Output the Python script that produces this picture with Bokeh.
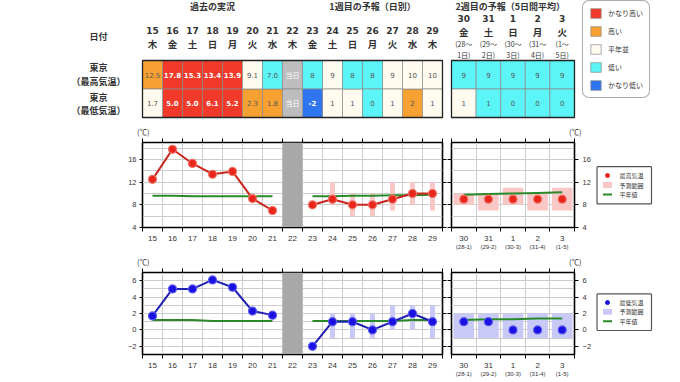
from bokeh.plotting import figure
from bokeh.models import (Range1d, LinearAxis, FixedTicker, Label, Legend,
                          LegendItem, ColumnDataSource)
from bokeh.layouts import row, column
from bokeh.core.properties import value
from bokeh.embed import file_html
from bokeh.resources import INLINE

# ---------------- data ----------------
past_days = [15, 16, 17, 18, 19, 20, 21]
past_weekdays = ["木", "金", "土", "日", "月", "火", "水"]
past_max = [12.5, 17.8, 15.3, 13.4, 13.9, 9.1, 7.0]
past_min = [1.7, 5.0, 5.0, 6.1, 5.2, 2.3, 1.8]
past_max_cat = ["high", "vhigh", "vhigh", "vhigh", "vhigh", "normal", "low"]
past_min_cat = ["normal", "vhigh", "vhigh", "vhigh", "vhigh", "high", "high"]
past_norm_max = [9.6, 9.6, 9.5, 9.5, 9.5, 9.5, 9.5]
past_norm_min = [1.2, 1.2, 1.2, 1.1, 1.1, 1.1, 1.1]

today_day = 22
today_weekday = "木"
today_text = "当日"

w1_days = [23, 24, 25, 26, 27, 28, 29]
w1_weekdays = ["金", "土", "日", "月", "火", "水", "木"]
w1_max = [8, 9, 8, 8, 9, 10, 10]
w1_min = [-2, 1, 1, 0, 1, 2, 1]
w1_max_cat = ["low", "normal", "low", "low", "normal", "normal", "normal"]
w1_min_cat = ["vlow", "normal", "normal", "low", "normal", "high", "normal"]
w1_norm_max = [9.5, 9.5, 9.6, 9.6, 9.7, 9.7, 9.8]
w1_norm_min = [1.1, 1.1, 1.1, 1.1, 1.1, 1.2, 1.2]
w1_range_days = [24, 25, 26, 27, 28, 29]
w1_max_lo = [8, 6, 6, 7, 8, 7]
w1_max_hi = [12, 10, 10, 12, 12, 12]
w1_min_lo = [-1, -1, -1, 0, 0, -1]
w1_min_hi = [2, 2, 2, 3, 3, 3]

w2_days = ["30", "31", "1", "2", "3"]
w2_weekdays = ["金", "土", "日", "月", "火"]
w2_period_from = ["(28～", "(29～", "(30～", "(31～", "(1～"]
w2_period_to = ["1日)", "2日)", "3日)", "4日)", "5日)"]
w2_axis_periods = ["(28-1)", "(29-2)", "(30-3)", "(31-4)", "(1-5)"]
w2_max = [9, 9, 9, 9, 9]
w2_min = [1, 1, 0, 0, 0]
w2_max_cat = ["low", "low", "low", "low", "low"]
w2_min_cat = ["normal", "low", "low", "low", "low"]
w2_max_lo = [8, 7, 8, 7, 7]
w2_max_hi = [10, 10, 11, 10, 11]
w2_min_lo = [-1, -1, -1, -1, -1]
w2_min_hi = [2, 2, 2, 2, 2]
w2_norm_max = [9.8, 9.9, 10.0, 10.1, 10.2]
w2_norm_min = [1.2, 1.3, 1.3, 1.4, 1.4]

categories = ["vhigh", "high", "normal", "low", "vlow"]
category_labels = ["かなり高い", "高い", "平年並", "低い", "かなり低い"]

max_ticks = [4, 8, 12, 16]
min_ticks = [-2, 0, 2, 4, 6]

# ---------------- style ----------------
JP = "Noto Sans CJK JP"
NUM = "Liberation Sans"
CELLNUM = "DejaVu Sans"
CAT_COLOR = {"vhigh": "#f23a2a", "high": "#f6a132", "normal": "#fffbef",
             "low": "#5cf5f7", "vlow": "#2f76ee"}
TODAY_CELL = "#bdbdbd"
TODAY_BAND = "#a8a8a8"
GRID = "#cccccc"
TXT = "#333333"
GREEN = "#2a8a2a"

# ---------------- layout (page pixels) ----------------
FIG_W = 672
TOP_H, ROW1_H, ROW2_H = 122, 130, 128
DAY_X0 = 142
DAY_PX = 20
A_W = 447
W2_X0 = 451
W2_PX = 24.6
B_RIGHT = 20
TABLE_TOP = 60
ROW_PX = 28.5
LABEL_X = 98

all_days = past_days + [today_day] + w1_days
all_weekdays = past_weekdays + [today_weekday] + w1_weekdays
d_lo = all_days[0] - 0.5
d_hi = all_days[-1] + 0.5
slots = list(range(len(w2_days)))


def day_at(px):
    return d_lo + (px - DAY_X0) / DAY_PX


def slot_at(px):
    return -0.5 + (px - W2_X0) / W2_PX


def row_at(py):
    return (py - TABLE_TOP) / ROW_PX - 0.5


def no_border(**kw):
    return dict(min_border_left=0, min_border_right=0, min_border_top=0,
                min_border_bottom=0, x_axis_type=None, y_axis_type=None,
                toolbar_location=None, output_backend="svg", outline_line_color=None, **kw)


# ================= top table =================
top = figure(width=FIG_W, height=TOP_H,
             x_range=Range1d(day_at(0), day_at(FIG_W)),
             y_range=Range1d(row_at(TOP_H), row_at(0)), **no_border())
top.extra_x_ranges = {"w2": Range1d(slot_at(0), slot_at(FIG_W))}
top.grid.visible = False

cell_days = past_days + w1_days
cell_max_cat = past_max_cat + w1_max_cat
cell_min_cat = past_min_cat + w1_min_cat
cell_r = {}
for cat in categories:
    xs, ys = [], []
    for d, c in zip(cell_days, cell_max_cat):
        if c == cat:
            xs.append(d); ys.append(0)
    for d, c in zip(cell_days, cell_min_cat):
        if c == cat:
            xs.append(d); ys.append(1)
    src = ColumnDataSource(dict(l=[x - 0.5 for x in xs], r=[x + 0.5 for x in xs],
                                t=[y - 0.5 for y in ys], b=[y + 0.5 for y in ys]))
    cell_r[cat] = top.quad(left="l", right="r", top="t", bottom="b", source=src,
                           fill_color=CAT_COLOR[cat], line_color="#8a8a8a", line_width=0.7)
top.quad(left=[today_day - 0.5] * 2, right=[today_day + 0.5] * 2, top=[-0.5, 0.5],
         bottom=[0.5, 1.5], fill_color=TODAY_CELL, line_color="#8a8a8a", line_width=0.7)
w2_cells = ColumnDataSource(dict(
    l=[s - 0.5 for s in slots] * 2, r=[s + 0.5 for s in slots] * 2,
    t=[-0.5] * len(slots) + [0.5] * len(slots), b=[0.5] * len(slots) + [1.5] * len(slots),
    c=[CAT_COLOR[c] for c in w2_max_cat + w2_min_cat]))
top.quad(left="l", right="r", top="t", bottom="b", fill_color="c", source=w2_cells,
         line_color="#8a8a8a", line_width=0.7, x_range_name="w2")
top.quad(left=[d_lo], right=[d_hi], top=[-0.5], bottom=[1.5], fill_color=None,
         line_color="#222222", line_width=1.3)
top.quad(left=[-0.5], right=[len(slots) - 0.5], top=[-0.5], bottom=[1.5], fill_color=None,
         line_color="#222222", line_width=1.3, x_range_name="w2")

bx, by, bt_ = [], [], []
nx, ny, nt = [], [], []


def add_cells(days, vals, cats, r, fmt):
    for d, v, c in zip(days, vals, cats):
        strong = c in ("vhigh", "vlow")
        (bx if strong else nx).append(d)
        (by if strong else ny).append(r)
        (bt_ if strong else nt).append(fmt(v))


add_cells(past_days, past_max, past_max_cat, 0, lambda v: f"{v:.1f}")
add_cells(past_days, past_min, past_min_cat, 1, lambda v: f"{v:.1f}")
add_cells(w1_days, w1_max, w1_max_cat, 0, lambda v: f"{v:d}")
add_cells(w1_days, w1_min, w1_min_cat, 1, lambda v: f"{v:d}")
top.text(x=bx, y=by, text=bt_, text_align="center", text_baseline="middle",
         text_font=value(CELLNUM), text_font_size="7px",
         text_font_style="bold", text_color="white")
top.text(x=nx, y=ny, text=nt, text_align="center", text_baseline="middle",
         text_font=value(CELLNUM), text_font_size="7px", text_color="#555555")
top.text(x=[today_day, today_day], y=[0, 1], text=[today_text, today_text],
         text_align="center", text_baseline="middle", text_font=value(JP),
         text_font_size="7px", text_color="white")
top.text(x=slots + slots, y=[0] * len(slots) + [1] * len(slots),
         text=[f"{v:d}" for v in w2_max + w2_min], text_align="center",
         text_baseline="middle", text_font=value(CELLNUM), text_font_size="7px",
         text_color="#555555", x_range_name="w2")

hdr = dict(text_align="center", text_baseline="middle", text_color=TXT,
           text_font=value(JP), text_font_style="bold")
top.text(x=[(past_days[0] + past_days[-1]) / 2], y=[row_at(6)], text=["過去の実況"],
         text_font_size="9px", **hdr)
top.text(x=[(w1_days[0] + w1_days[-1]) / 2], y=[row_at(6)], text=["1週目の予報（日別）"],
         text_font_size="9px", **hdr)
top.text(x=[slot_at(455)], y=[row_at(6)], text=["2週目の予報（5日間平均）"],
         text_font_size="9px", x_range_name="w2", **{**hdr, "text_align": "left"})
top.text(x=all_days, y=[row_at(29.5)] * len(all_days), text=[str(d) for d in all_days],
         text_font_size="9px", **{**hdr, "text_font": value(CELLNUM)})
top.text(x=all_days, y=[row_at(43)] * len(all_days), text=all_weekdays,
         text_font_size="9.5px", **hdr)
top.text(x=slots, y=[row_at(18)] * len(slots), text=w2_days, text_font_size="9px",
         x_range_name="w2", **{**hdr, "text_font": value(CELLNUM)})
top.text(x=slots, y=[row_at(31.5)] * len(slots), text=w2_weekdays, text_font_size="9.5px",
         x_range_name="w2", **hdr)
top.text(x=slots, y=[row_at(43.5)] * len(slots), text=w2_period_from, text_font_size="7px",
         x_range_name="w2", **{**hdr, "text_font_style": "normal"})
top.text(x=slots, y=[row_at(54.5)] * len(slots), text=w2_period_to, text_font_size="7px",
         x_range_name="w2", **{**hdr, "text_font_style": "normal"})
side_x = day_at(LABEL_X)
top.text(x=[side_x] * 5, y=[row_at(p) for p in (36, 67, 81, 96.5, 109.5)],
         text=["日付", "東京", "（最高気温）", "東京", "（最低気温）"],
         text_font_size="9px", **hdr)

top_legend = Legend(items=[LegendItem(label=lab, renderers=[cell_r[c]])
                           for c, lab in zip(categories, category_labels)],
                    location=(582, TOP_H - 98), padding=6, spacing=6,
                    glyph_width=13, glyph_height=12, label_height=12, label_standoff=6,
                    label_text_font=JP, label_text_font_size="7px", label_text_color=TXT,
                    border_line_color="#555555", border_line_width=1,
                    background_fill_color="white", background_fill_alpha=1)
try:
    top_legend.border_radius = 7
except Exception:
    pass
top.add_layout(top_legend)


# ================= charts =================
def style_axis(ax, size):
    ax.major_label_text_font = NUM
    ax.major_label_text_font_size = size
    ax.major_label_text_color = TXT
    ax.axis_line_color = "black"
    ax.major_tick_line_color = "black"
    ax.minor_tick_line_color = "black"


def edge_ticks(p, side, ticks):
    ax = LinearAxis(ticker=FixedTicker(ticks=[], minor_ticks=ticks),
                    major_tick_out=0, major_tick_in=0, minor_tick_out=4, minor_tick_in=0,
                    axis_line_color=None, minor_tick_line_color="black",
                    major_label_text_font_size="0px", major_label_standoff=0)
    p.add_layout(ax, side)


def celsius_title(p, offset):
    p.title.text = "(℃)"
    p.title.align = "left"
    p.title.offset = offset
    p.title.standoff = 3
    p.title.text_font = JP
    p.title.text_font_size = "7.5px"
    p.title.text_font_style = "normal"
    p.title.text_color = TXT


def chart_row(h, bt, bb, ylo, yhi, yticks, ystep, past_v, past_n, w1_v, w1_n,
              rlo, rhi, w2_v, w2_n, w2lo, w2hi, pt_col, pt_edge, ln_col, rng_col,
              label_lines, label_py, legend_names, legend_top):
    frame_h = h - bt - bb
    upp = (yhi - ylo) / frame_h

    def y_at(py):
        return yhi - (py - bt) * upp

    grid_vals = list(range(ylo, yhi + 1, ystep))
    common = dict(height=h, min_border_top=bt, min_border_bottom=bb, toolbar_location=None,
                  output_backend="svg", outline_line_color="black", outline_line_width=1.6,
                  y_range=Range1d(ylo, yhi))
    a_frame = int(round((d_hi - d_lo) * DAY_PX))
    pa = figure(width=A_W, x_range=Range1d(d_lo, d_hi), min_border_left=DAY_X0,
                min_border_right=A_W - DAY_X0 - a_frame, **common)
    b_frame = int(round(len(slots) * W2_PX))
    b_w = (W2_X0 - A_W) + b_frame + B_RIGHT
    pb = figure(width=b_w, x_range=Range1d(-0.5, len(slots) - 0.5), y_axis_location="right",
                min_border_left=W2_X0 - A_W, min_border_right=B_RIGHT, **common)
    celsius_title(pa, -5.5)
    celsius_title(pb, b_frame - 5.5)

    bounds = [d + 0.5 for d in range(all_days[0] - 1, all_days[-1] + 1)]
    sb = [s + 0.5 for s in range(-1, len(slots))]
    main_x, main_y = {}, {}
    for p, ticks, mticks in ((pa, all_days, bounds), (pb, slots, sb)):
        p.xgrid.ticker = FixedTicker(ticks=mticks)
        p.ygrid.ticker = FixedTicker(ticks=grid_vals)
        p.grid.grid_line_color = GRID
        p.grid.grid_line_width = 1
        xa = p.below[0]
        ya = p.left[0] if p is pa else p.right[0]
        main_x[id(p)], main_y[id(p)] = xa, ya
        xa.ticker = FixedTicker(ticks=ticks, minor_ticks=mticks)
        xa.major_tick_out = 0
        xa.major_tick_in = 0
        xa.minor_tick_out = 4
        xa.minor_tick_in = 0
        xa.major_label_standoff = 4
        style_axis(xa, "8px")
        ya.ticker = FixedTicker(ticks=yticks)
        ya.major_tick_out = 3
        ya.major_tick_in = 0
        ya.minor_tick_out = 0
        ya.major_label_standoff = 3
        style_axis(ya, "7.5px")
    b_x, b_y = main_x[id(pb)], main_y[id(pb)]
    b_y.major_tick_out = 4
    b_y.major_label_standoff = 4
    b_x.major_label_overrides = {s: t for s, t in zip(slots, w2_days)}
    ax2 = LinearAxis(ticker=FixedTicker(ticks=slots),
                     major_label_overrides={s: t for s, t in zip(slots, w2_axis_periods)},
                     major_tick_out=0, major_tick_in=0,
                     minor_tick_out=0, minor_tick_in=0, major_label_standoff=0)
    style_axis(ax2, "6px")
    ax2.axis_line_color = None
    pb.add_layout(ax2, "below")
    edge_ticks(pa, "above", bounds)
    edge_ticks(pb, "above", sb)
    edge_ticks(pa, "right", yticks)
    edge_ticks(pb, "left", yticks)

    pa.quad(left=[today_day - 0.5], right=[today_day + 0.5], bottom=[ylo], top=[yhi],
            fill_color=TODAY_BAND, line_color=None)
    pa.quad(left=[d - 0.125 for d in w1_range_days], right=[d + 0.125 for d in w1_range_days],
            bottom=rlo, top=rhi, fill_color=rng_col, line_color=None)
    pb.quad(left=[s - 0.42 for s in slots], right=[s + 0.42 for s in slots],
            bottom=w2lo, top=w2hi, fill_color=rng_col, line_color=None)
    pa.line(past_days, past_n, line_color=GREEN, line_width=2)
    pa.line(w1_days, w1_n, line_color=GREEN, line_width=2)
    pb.line(slots, w2_n, line_color=GREEN, line_width=2)
    pa.line(past_days, past_v, line_color=ln_col, line_width=2)
    pa.line(w1_days, w1_v, line_color=ln_col, line_width=2)
    mk = dict(size=8, fill_color=pt_col, line_color=pt_edge, line_width=1.2)
    pa.scatter(past_days, past_v, **mk)
    pa.scatter(w1_days, w1_v, **mk)
    pb.scatter(slots, w2_v, **mk)

    for i, line in enumerate(label_lines):
        pa.add_layout(Label(x=day_at(LABEL_X), y=y_at(label_py + 12 * i), text=line,
                            text_align="center", text_baseline="middle", text_font=JP,
                            text_font_size="9px", text_font_style="bold", text_color=TXT))

    # legend panel (own figure, local pixel coordinates, y downwards)
    c_w = FIG_W - A_W - b_w
    c_x0 = A_W + b_w
    pc = figure(width=c_w, height=h, x_range=Range1d(0, c_w), y_range=Range1d(h, 0),
                **no_border())
    pc.grid.visible = False
    x0, x1 = 596.5 - c_x0, 651 - c_x0
    y0, y1 = legend_top, legend_top + 57
    pc.segment(x0=[x0, x1, x1, x0], y0=[y0, y0, y1, y1],
               x1=[x1, x1, x0, x0], y1=[y0, y1, y1, y0],
               line_color="#555555", line_width=1.2)
    iy = [legend_top + 13.5, legend_top + 28, legend_top + 42.5]
    gx0, gx1 = 602.5 - c_x0, 611.5 - c_x0
    pc.scatter(x=[(gx0 + gx1) / 2], y=[iy[0]], size=4, fill_color=pt_col, line_color=pt_col)
    pc.quad(left=[gx0], right=[gx1], top=[iy[1] - 4.5], bottom=[iy[1] + 4.5],
            fill_color=rng_col, line_color=None)
    pc.segment(x0=[gx0], x1=[gx1], y0=[iy[2]], y1=[iy[2]], line_color=GREEN, line_width=2)
    pc.text(x=[619 - c_x0] * 3, y=iy, text=legend_names, text_align="left",
            text_baseline="middle", text_font=value(JP), text_font_size="6px",
            text_color=TXT)
    return row(pa, pb, pc)


row_max = chart_row(ROW1_H, 16, 24, 4, 19, max_ticks, 2, past_max, past_norm_max,
                    w1_max, w1_norm_max, w1_max_lo, w1_max_hi, w2_max, w2_norm_max,
                    w2_max_lo, w2_max_hi, "#e8261c", "#f27466", "#c9261d", "#f8c7c6",
                    ["東京", "（最高気温）"], 58.5, ["最高気温", "予測範囲", "平年値"], 159 - 122)
row_min = chart_row(ROW2_H, 12, 26, -3, 7, min_ticks, 1, past_min, past_norm_min,
                    w1_min, w1_norm_min, w1_min_lo, w1_min_hi, w2_min, w2_norm_min,
                    w2_min_lo, w2_min_hi, "#1a10e0", "#5a5af0", "#2020b4", "#c9c9f7",
                    ["東京", "（最低気温）"], 56, ["最低気温", "予測範囲", "平年値"], 285.5 - 252)

layout = column(top, row_max, row_min)
open("out.html", "w").write(file_html(layout, INLINE))
